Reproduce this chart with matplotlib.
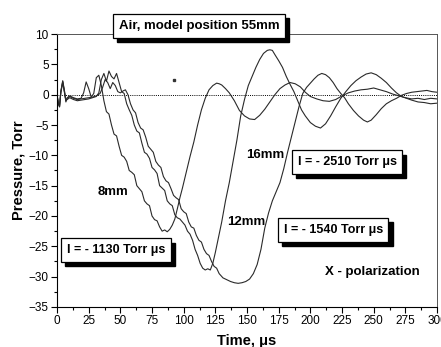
import matplotlib
matplotlib.use('Agg')
import matplotlib.pyplot as plt
from matplotlib.transforms import offset_copy

plt.rcParams['font.family'] = ['Liberation Sans', 'DejaVu Sans']

# 8mm
t_8 = [0, 1, 2, 3, 4.5, 6, 7, 8, 10, 13, 16, 19, 21, 23, 25, 27, 29, 31, 33, 35, 37, 39, 41, 43, 45, 47, 49,
       51, 53, 55, 57, 59, 61, 63, 65, 67, 69, 71, 73, 75, 77, 79, 81, 83, 85, 87, 89, 91, 93, 95, 97, 99,
       102, 105, 108, 111, 114, 117, 120, 123, 126, 128, 130, 133, 136, 140, 144, 148, 152, 156, 160, 164,
       168, 172, 176, 180, 184, 188, 192, 196, 200, 205, 210, 215, 220, 225, 230, 235, 240, 245, 250, 255,
       260, 265, 270, 275, 280, 285, 290, 295, 300]
p_8 = [0, -1.5, -2.0, 0.5, 2.3, 0.5, -1.2, -0.5, -0.2, -0.5, -0.7, -0.6, 0.3, 2.1, 1.0, -0.4, 0.2, 2.8, 3.2,
       1.5, -1.0, -2.8, -3.2, -5.0, -6.5, -6.8, -8.5, -10.0, -10.3, -11.0, -12.5, -12.8, -13.2, -15.0, -15.5,
       -16.0, -17.5, -18.0, -18.3, -20.0, -20.6, -20.8, -21.8, -22.5, -22.3, -22.6, -22.2, -21.5, -20.5, -18.8,
       -17.0, -15.4, -12.8, -10.2, -7.8, -5.0, -2.5, -0.6, 0.8, 1.5, 1.9, 1.8, 1.6, 1.0, 0.3, -1.0, -2.6, -3.5,
       -4.0, -4.1, -3.4, -2.4, -1.2, 0.0, 1.0, 1.6, 2.0, 1.8, 1.3, 0.4, -0.3, -0.7, -1.0, -1.1, -0.8, -0.2, 0.3,
       0.6, 0.8, 0.9, 1.1, 0.8, 0.5, 0.1, -0.2, -0.5, -0.7, -0.6, -0.8, -0.6, -0.7]

# 12mm
t_12 = [0, 1, 2, 3, 4.5, 6, 7, 8, 10, 13, 16, 19, 22, 25, 28, 31, 33, 35, 37, 39, 41, 43, 45, 47, 49, 51, 53,
        55, 57, 59, 61, 63, 65, 67, 69, 71, 73, 75, 77, 79, 81, 83, 85, 87, 89, 91, 93, 95, 97, 99, 101, 103,
        105, 107, 109, 111, 113, 115, 117, 119, 121, 123, 125, 127, 130, 133, 136, 139, 142, 145, 148, 151,
        154, 157, 160, 163, 166, 168, 170, 172, 175, 178, 181, 184, 187, 190, 193, 196, 200, 204, 208, 212,
        216, 220, 224, 228, 232, 236, 240, 244, 248, 252, 256, 260, 264, 268, 272, 276, 280, 285, 290, 295, 300]
p_12 = [0, -1.5, -2.0, 0.5, 2.2, 0.3, -1.0, -0.8, -0.5, -0.8, -1.0, -0.9, -0.8, -0.7, -0.5, -0.3, 0.3, 2.5,
        3.5, 2.2, 3.9, 3.0, 2.6, 3.5, 2.0, 0.5, 0.2, -1.5, -2.5, -3.4, -5.0, -6.0, -6.3, -8.0, -9.5, -9.8,
        -10.5, -12.0, -12.4, -13.0, -15.0, -15.4, -15.8, -17.5, -18.0, -18.3, -19.8, -20.3, -20.5, -21.0,
        -21.5, -22.5, -23.0, -24.0, -25.5, -26.5, -27.8, -28.6, -28.9, -28.7, -28.9, -27.8, -26.0, -24.0,
        -21.0, -17.5, -14.5, -11.0, -7.5, -3.5, -0.8, 1.5, 3.0, 4.5, 5.8, 6.8, 7.3, 7.4, 7.3, 6.6, 5.6, 4.5,
        3.0, 1.7, 0.5, -1.0, -2.5, -3.5, -4.6, -5.2, -5.5, -4.8, -3.5, -2.0, -0.6, 0.5, 1.5, 2.3, 2.9, 3.4,
        3.6, 3.3, 2.7, 2.0, 1.1, 0.3, -0.3, -0.6, -0.9, -1.2, -1.3, -1.5, -1.4]

# 16mm
t_16 = [0, 1, 2, 3, 4.5, 6, 7, 8, 10, 13, 16, 19, 22, 25, 28, 31, 34, 36, 38, 40, 42, 44, 46, 48, 50, 52, 54,
        56, 58, 60, 62, 64, 66, 68, 70, 72, 74, 76, 78, 80, 82, 84, 86, 88, 90, 92, 94, 96, 98, 100, 102, 104,
        106, 108, 110, 112, 114, 116, 118, 120, 122, 124, 126, 128, 131, 134, 137, 140, 143, 146, 149, 152,
        155, 158, 161, 164, 167, 170, 173, 176, 179, 182, 185, 188, 191, 194, 197, 200, 203, 206, 209, 212,
        215, 218, 221, 224, 227, 230, 234, 238, 242, 245, 248, 252, 256, 260, 264, 268, 272, 276, 280, 284,
        288, 292, 296, 300]
p_16 = [0, -1.3, -1.8, 0.3, 2.0, 0.2, -1.0, -0.6, -0.3, -0.6, -0.8, -0.7, -0.6, -0.5, -0.4, -0.2, 0.2, 1.2,
        2.5, 2.0, 1.0, 2.0, 1.5, 0.5, 0.3, 0.6, 0.8, 0.0, -1.5, -2.5, -3.0, -4.6, -5.5, -5.8, -7.0, -8.5,
        -9.0, -9.5, -11.0, -11.6, -12.0, -13.5, -14.2, -14.5, -15.5, -16.6, -17.0, -17.3, -18.8, -19.3,
        -19.6, -21.0, -21.8, -22.0, -23.2, -24.0, -24.3, -25.5, -26.2, -26.5, -27.5, -28.3, -28.6, -29.5,
        -30.2, -30.5, -30.8, -31.0, -31.1, -31.0, -30.8, -30.4, -29.5, -28.0, -25.5, -22.0, -19.5, -17.5,
        -16.0, -14.5, -12.2, -9.5, -7.0, -4.5, -2.0, 0.2, 1.2, 1.9, 2.6, 3.2, 3.5, 3.3, 2.8, 2.0, 1.0, 0.2,
        -0.5, -1.5, -2.6, -3.5, -4.2, -4.5, -4.2, -3.3, -2.3, -1.5, -1.0, -0.6, -0.1, 0.2, 0.4, 0.5, 0.6,
        0.7, 0.5, 0.4]

x_ticks = [0, 25, 50, 75, 100, 125, 150, 175, 200, 225, 250, 275, 300]
y_ticks = [-35, -30, -25, -20, -15, -10, -5, 0, 5, 10]


def shadow_box(ax, x, y, s, transform, size=10.5):
    # 黑色阴影 + 白底方框
    sh = offset_copy(transform, fig=ax.figure, x=3.0, y=-3.0, units='points')
    ax.text(x, y, s, transform=sh, ha='center', va='center', fontsize=size, fontweight='bold',
            color='black', zorder=4, clip_on=False,
            bbox=dict(boxstyle='square,pad=0.45', facecolor='black', edgecolor='black'))
    ax.text(x, y, s, transform=transform, ha='center', va='center', fontsize=size, fontweight='bold',
            zorder=5, clip_on=False,
            bbox=dict(boxstyle='square,pad=0.45', facecolor='white', edgecolor='black', linewidth=0.9))


fig = plt.figure(figsize=(4.41, 3.47), dpi=100)
ax = fig.add_axes([0.1293, 0.1153, 0.8617, 0.7867])

ax.axhline(0, color='black', linestyle=(0, (1, 1.2)), linewidth=0.7, zorder=1)
for t, p in [(t_8, p_8), (t_12, p_12), (t_16, p_16)]:
    ax.plot(t, p, color='#2a2a2a', linewidth=0.8, zorder=2)
ax.plot([92], [2.4], marker='s', markersize=1.5, color='#333333')

ax.set_xlim(0, 300)
ax.set_ylim(-35, 10)
ax.set_xticks(x_ticks)
ax.set_yticks(y_ticks)
ax.set_xticks([12.5 + 25 * i for i in range(12)], minor=True)
ax.set_yticks([-32.5 + 5 * i for i in range(9)], minor=True)
ax.tick_params(direction='out', length=4, width=0.8, labelsize=8.5, pad=2)
ax.tick_params(which='minor', direction='out', length=2.5, width=0.8)
for s in ['top', 'right']:
    ax.spines[s].set_linewidth(0.7)
    ax.spines[s].set_color('#555555')

ax.set_xlabel('Time, μs', fontsize=10.5, fontweight='bold', labelpad=5)
ax.set_ylabel('Pressure, Torr', fontsize=10.5, fontweight='bold', labelpad=2)

# 标注
ax.text(44, -16, '8mm', fontsize=9.5, fontweight='bold', ha='center', va='center')
ax.text(149, -21, '12mm', fontsize=9.5, fontweight='bold', ha='center', va='center')
ax.text(164, -10, '16mm', fontsize=9.5, fontweight='bold', ha='center', va='center')
ax.text(249, -29.2, 'X - polarization', fontsize=9.5, fontweight='bold', ha='center', va='center')

shadow_box(ax, 229, -11.1, 'I = - 2510 Torr μs', ax.transData, 9)
shadow_box(ax, 218, -22.3, 'I = - 1540 Torr μs', ax.transData, 9)
shadow_box(ax, 46.6, -25.6, 'I = - 1130 Torr μs', ax.transData, 9)
shadow_box(ax, 199 / 441, 1 - 26 / 347, 'Air, model position 55mm', fig.transFigure, 9.5)

fig.savefig('out.png', dpi=100)
